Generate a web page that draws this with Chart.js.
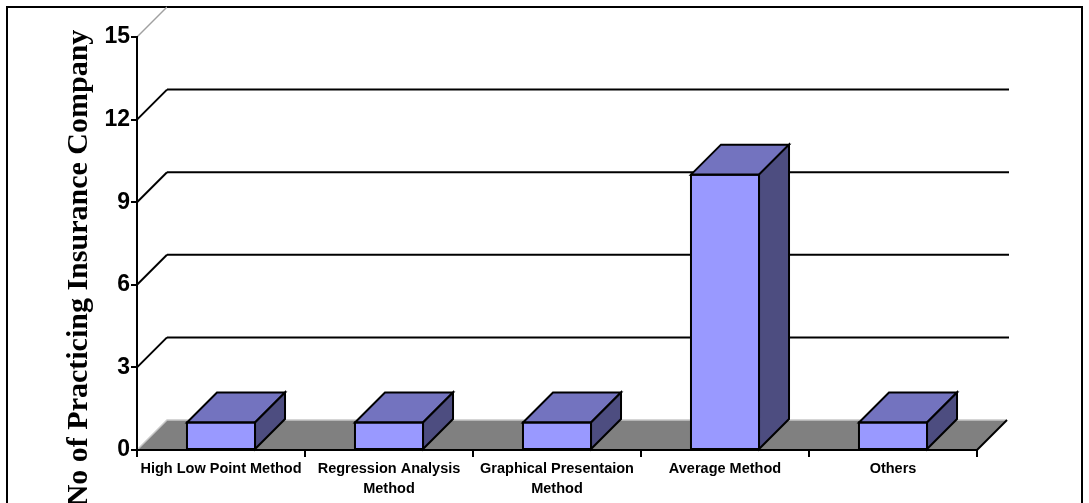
<!DOCTYPE html>
<html>
<head>
<meta charset="utf-8">
<title>No of Practicing Insurance Company</title>
<script src="https://cdn.jsdelivr.net/npm/chart.js@4/dist/chart.umd.min.js"></script>
<style>
    html, body { margin: 0; padding: 0; background: #fff; }
    canvas { display: block; }
</style>
</head>
<body>
<canvas id="methodChart" width="1089" height="503"></canvas>
<script>
const categories = [
    ['High Low Point Method'],
    ['Regression Analysis', 'Method'],
    ['Graphical Presentaion', 'Method'],
    ['Average Method'],
    ['Others']
];
const companyCounts = [1, 1, 1, 10, 1];
const yTickValues = [0, 3, 6, 9, 12, 15];
const yAxisTitle = 'No of Practicing Insurance Company';

const DEPTH = 30; // fake 3d depth, px
const sansFont = 'Arial, "Liberation Sans", sans-serif';
const serifFont = '"Times New Roman", "Liberation Serif", serif';

// back wall, floor and outer frame go under everything
const wallAndFloor = {
    id: 'wallAndFloor',
    beforeDraw(chart) {
        const { ctx, chartArea: a, scales: { y } } = chart;
        ctx.save();
        ctx.fillStyle = '#fff';
        ctx.fillRect(0, 0, chart.width, chart.height);

        // outer frame (bottom runs off the picture)
        ctx.strokeStyle = '#000';
        ctx.lineWidth = 2;
        ctx.strokeRect(7, 7, chart.width - 14, chart.height + 20);

        // gridlines on the back wall
        const topValue = yTickValues[yTickValues.length - 1];
        yTickValues.forEach((v) => {
            if (v === 0) return;
            const py = y.getPixelForValue(v);
            ctx.beginPath();
            ctx.moveTo(a.left, py);
            ctx.lineTo(a.left + DEPTH, py - DEPTH);
            ctx.strokeStyle = v === topValue ? '#a0a0a0' : '#000';
            ctx.lineWidth = v === topValue ? 1.5 : 2;
            ctx.stroke();
            ctx.beginPath();
            ctx.moveTo(a.left + DEPTH, py - DEPTH);
            ctx.lineTo(a.right + DEPTH + 2, py - DEPTH);
            ctx.strokeStyle = '#000';
            ctx.lineWidth = 2;
            ctx.stroke();
        });

        // floor
        const y0 = y.getPixelForValue(0);
        ctx.beginPath();
        ctx.moveTo(a.left, y0);
        ctx.lineTo(a.right, y0);
        ctx.lineTo(a.right + DEPTH, y0 - DEPTH);
        ctx.lineTo(a.left + DEPTH, y0 - DEPTH);
        ctx.closePath();
        ctx.fillStyle = '#808080';
        ctx.fill();

        ctx.beginPath();
        ctx.moveTo(a.left, y0);
        ctx.lineTo(a.left + DEPTH, y0 - DEPTH);
        ctx.lineTo(a.right + DEPTH, y0 - DEPTH);
        ctx.strokeStyle = '#c8c8c8';
        ctx.lineWidth = 1.5;
        ctx.stroke();

        ctx.beginPath();
        ctx.moveTo(a.right + DEPTH, y0 - DEPTH);
        ctx.lineTo(a.right, y0);
        ctx.strokeStyle = '#000';
        ctx.lineWidth = 2;
        ctx.stroke();
        ctx.restore();
    },
    afterDatasetsDraw(chart) {
        // top and side faces of each bar
        const ctx = chart.ctx;
        const meta = chart.getDatasetMeta(0);
        ctx.save();
        ctx.strokeStyle = '#000';
        ctx.lineWidth = 2;
        ctx.lineJoin = 'miter';
        meta.data.forEach((bar) => {
            const { x, y, width, base } = bar.getProps(['x', 'y', 'width', 'base'], true);
            const x0 = x - width / 2;
            const x1 = x + width / 2;

            ctx.beginPath();
            ctx.moveTo(x0, y);
            ctx.lineTo(x1, y);
            ctx.lineTo(x1 + DEPTH, y - DEPTH);
            ctx.lineTo(x0 + DEPTH, y - DEPTH);
            ctx.closePath();
            ctx.fillStyle = '#7373bf';
            ctx.fill();
            ctx.stroke();

            ctx.beginPath();
            ctx.moveTo(x1, y);
            ctx.lineTo(x1 + DEPTH, y - DEPTH);
            ctx.lineTo(x1 + DEPTH, base - DEPTH);
            ctx.lineTo(x1, base);
            ctx.closePath();
            ctx.fillStyle = '#4d4d80';
            ctx.fill();
            ctx.stroke();

            ctx.strokeRect(x0, y, width, base - y);
        });
        ctx.restore();
    },
    afterDraw(chart) {
        const ctx = chart.ctx;
        ctx.save();
        ctx.translate(87, 268);
        ctx.rotate(-Math.PI / 2);
        ctx.font = 'bold 30px ' + serifFont;
        ctx.fillStyle = '#000';
        ctx.textAlign = 'center';
        ctx.textBaseline = 'alphabetic';
        ctx.fillText(yAxisTitle, 0, 0);
        ctx.restore();
    }
};

const ctx = document.getElementById('methodChart').getContext('2d');

new Chart(ctx, {
    type: 'bar',
    data: {
        labels: categories,
        datasets: [{
            label: yAxisTitle,
            data: companyCounts,
            backgroundColor: '#9999ff',
            borderColor: '#000',
            borderWidth: 0,
            barPercentage: 0.405,
            categoryPercentage: 1
        }]
    },
    options: {
        responsive: false,
        devicePixelRatio: 1,
        animation: false,
        layout: {
            padding: { left: 0, right: 112, top: 37, bottom: 0 }
        },
        plugins: {
            legend: { display: false },
            tooltip: { enabled: false }
        },
        scales: {
            x: {
                offset: true,
                grid: {
                    offset: true,
                    drawOnChartArea: false,
                    tickLength: 7,
                    color: '#000',
                    lineWidth: 2
                },
                border: { color: '#000', width: 2 },
                ticks: {
                    color: '#000',
                    padding: 2,
                    maxRotation: 0,
                    autoSkip: false,
                    font: { family: sansFont, size: 14.5, weight: 'bold', lineHeight: '20px' }
                },
                afterFit(scale) { scale.height = 53; }
            },
            y: {
                min: yTickValues[0],
                max: yTickValues[yTickValues.length - 1],
                afterBuildTicks(scale) {
                    scale.ticks = yTickValues.map((v) => ({ value: v }));
                },
                grid: {
                    drawOnChartArea: false,
                    tickLength: 6,
                    color: '#000',
                    lineWidth: 2
                },
                border: { color: '#000', width: 2 },
                ticks: {
                    color: '#000',
                    padding: 1,
                    font: { family: sansFont, size: 23, weight: 'bold' }
                },
                afterFit(scale) { scale.width = 137; }
            }
        }
    },
    plugins: [wallAndFloor]
});
</script>
</body>
</html>
